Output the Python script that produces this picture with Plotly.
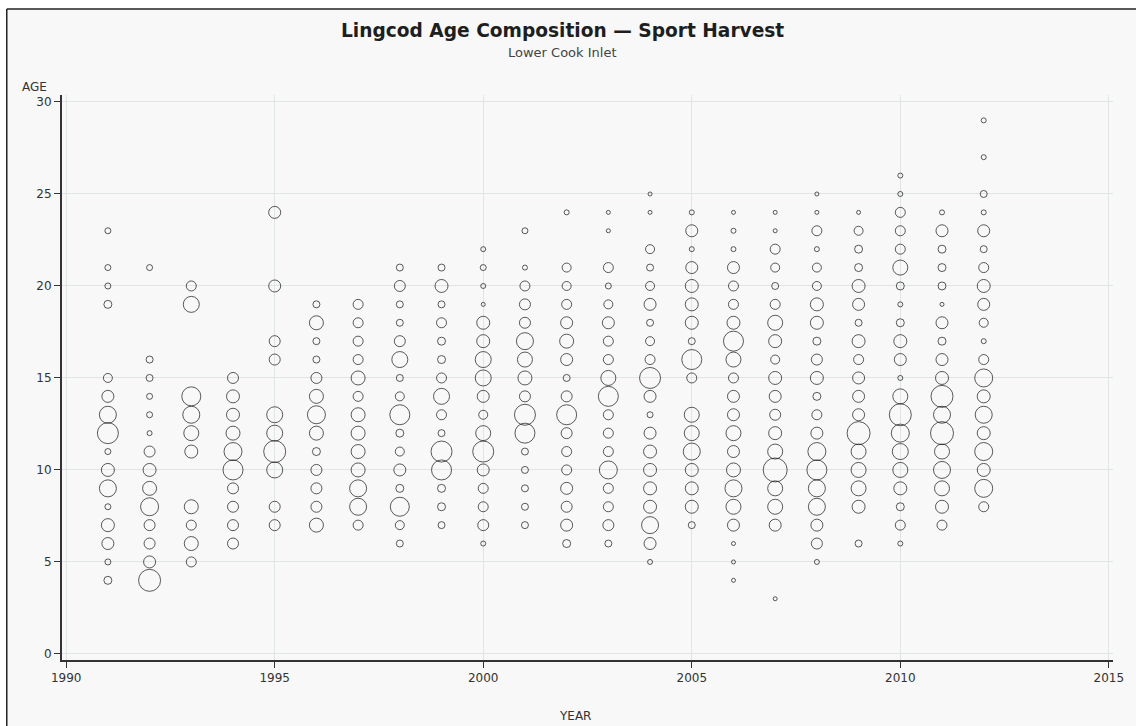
import plotly.graph_objects as go

# ---- Data: per-year ages and relative bubble sizes ----
years = list(range(1991, 2013))

ages = {
    1991: [23, 21, 20, 19, 15, 14, 13, 12, 11, 10, 9, 8, 7, 6, 5, 4],
    1992: [21, 16, 15, 14, 13, 12, 11, 10, 9, 8, 7, 6, 5, 4],
    1993: [20, 19, 14, 13, 12, 11, 8, 7, 6, 5],
    1994: [15, 14, 13, 12, 11, 10, 9, 8, 7, 6],
    1995: [24, 20, 17, 16, 13, 12, 11, 10, 8, 7],
    1996: [19, 18, 17, 16, 15, 14, 13, 12, 11, 10, 9, 8, 7],
    1997: [19, 18, 17, 16, 15, 14, 13, 12, 11, 10, 9, 8, 7],
    1998: [21, 20, 19, 18, 17, 16, 15, 14, 13, 12, 11, 10, 9, 8, 7, 6],
    1999: [21, 20, 19, 18, 17, 16, 15, 14, 13, 12, 11, 10, 9, 8, 7],
    2000: [22, 21, 20, 19, 18, 17, 16, 15, 14, 13, 12, 11, 10, 9, 8, 7, 6],
    2001: [23, 21, 20, 19, 18, 17, 16, 15, 14, 13, 12, 11, 10, 9, 8, 7],
    2002: [24, 21, 20, 19, 18, 17, 16, 15, 14, 13, 12, 11, 10, 9, 8, 7, 6],
    2003: [24, 23, 21, 20, 19, 18, 17, 16, 15, 14, 13, 12, 11, 10, 9, 8, 7, 6],
    2004: [25, 24, 22, 21, 20, 19, 18, 17, 16, 15, 14, 13, 12, 11, 10, 9, 8, 7, 6, 5],
    2005: [24, 23, 22, 21, 20, 19, 18, 17, 16, 15, 13, 12, 11, 10, 9, 8, 7],
    2006: [24, 23, 22, 21, 20, 19, 18, 17, 16, 15, 14, 13, 12, 11, 10, 9, 8, 7, 6, 5, 4],
    2007: [24, 23, 22, 21, 20, 19, 18, 17, 16, 15, 14, 13, 12, 11, 10, 9, 8, 7, 3],
    2008: [25, 24, 23, 22, 21, 20, 19, 18, 17, 16, 15, 14, 13, 12, 11, 10, 9, 8, 7, 6, 5],
    2009: [24, 23, 22, 21, 20, 19, 18, 17, 16, 15, 14, 13, 12, 11, 10, 9, 8, 6],
    2010: [26, 25, 24, 23, 22, 21, 20, 19, 18, 17, 16, 15, 14, 13, 12, 11, 10, 9, 8, 7, 6],
    2011: [24, 23, 22, 21, 20, 19, 18, 17, 16, 15, 14, 13, 12, 11, 10, 9, 8, 7],
    2012: [29, 27, 25, 24, 23, 22, 21, 20, 19, 18, 17, 16, 15, 14, 13, 12, 11, 10, 9, 8],
}

sizes = {
    1991: [6, 6, 6, 8, 9, 12, 17, 21, 6, 13, 17, 6, 13, 12, 6, 8],
    1992: [6, 7, 7, 6, 6, 5, 11, 13, 14, 18, 11, 11, 12, 22],
    1993: [10, 16, 19, 17, 15, 13, 14, 10, 14, 10],
    1994: [11, 13, 13, 14, 18, 20, 11, 11, 11, 11],
    1995: [12, 12, 11, 11, 16, 16, 22, 16, 11, 11],
    1996: [7, 14, 7, 7, 11, 14, 18, 14, 8, 11, 11, 11, 14],
    1997: [10, 10, 10, 10, 14, 10, 14, 14, 14, 14, 17, 17, 10],
    1998: [7, 11, 7, 7, 11, 16, 7, 9, 20, 8, 9, 12, 8, 19, 9, 7],
    1999: [7, 13, 7, 10, 8, 8, 10, 16, 10, 7, 21, 20, 8, 8, 7],
    2000: [5, 6, 5, 4, 13, 13, 16, 16, 12, 9, 15, 21, 12, 10, 10, 11, 5],
    2001: [6, 5, 10, 11, 11, 17, 15, 14, 11, 21, 20, 7, 7, 7, 7, 7],
    2002: [5, 9, 9, 10, 12, 14, 12, 7, 11, 20, 11, 10, 10, 12, 11, 12, 8],
    2003: [4, 4, 10, 6, 9, 12, 10, 10, 15, 20, 10, 10, 10, 18, 10, 10, 11, 7],
    2004: [4, 4, 9, 7, 9, 12, 7, 9, 10, 21, 12, 6, 12, 13, 13, 13, 13, 17, 12, 5],
    2005: [5, 12, 5, 12, 13, 13, 13, 7, 20, 10, 15, 15, 17, 13, 13, 13, 7],
    2006: [4, 5, 5, 12, 10, 10, 13, 20, 15, 10, 12, 12, 15, 12, 14, 17, 15, 12, 4, 4, 4],
    2007: [4, 4, 10, 9, 7, 10, 15, 13, 9, 13, 12, 11, 13, 15, 24, 15, 15, 12, 4],
    2008: [4, 4, 10, 5, 9, 9, 13, 13, 8, 11, 13, 8, 10, 12, 18, 20, 17, 17, 12, 11, 5],
    2009: [4, 9, 8, 8, 13, 12, 7, 13, 10, 12, 12, 12, 23, 15, 15, 15, 13, 7],
    2010: [5, 5, 10, 10, 10, 15, 8, 5, 8, 13, 12, 5, 15, 22, 18, 16, 15, 13, 8, 10, 5],
    2011: [5, 12, 8, 8, 8, 4, 12, 8, 12, 13, 22, 17, 23, 15, 17, 15, 13, 10],
    2012: [5, 5, 7, 5, 12, 7, 10, 13, 12, 9, 5, 10, 18, 13, 17, 13, 18, 13, 18, 10],
}

x_ticks = [1990, 1995, 2000, 2005, 2010, 2015]
y_ticks = [0, 5, 10, 15, 20, 25, 30]

title_text = "Lingcod Age Composition \u2014 Sport Harvest"
subtitle_text = "Lower Cook Inlet"
x_title = "YEAR"
y_title = "AGE"

# ---- Build the long table ----
xs, ys, ss = [], [], []
for yr in years:
    for a, s in zip(ages[yr], sizes[yr]):
        xs.append(yr)
        ys.append(a)
        ss.append(s)

FONT = "DejaVu Sans, Verdana, sans-serif"
BG = "#f7f8f7"
INK = "#333333"

fig = go.Figure()
fig.add_trace(go.Scatter(
    x=xs, y=ys, mode="markers",
    marker=dict(
        size=ss, sizemode="diameter", sizeref=1,
        symbol="circle-open",
        color="#151515",
        line=dict(width=1, color="#151515"),
    ),
    hoverinfo="x+y",
    showlegend=False,
))

W, H = 1136, 726
# plot area in page pixels
PL, PT, PR, PB = 62, 95, 1118, 660
pw = PR - PL
ph = PB - PT

def px_x(page_x):
    return (page_x - PL) / pw

def px_y(page_y):
    return (PB - page_y) / ph

frame = dict(color="#222222", width=1.5)

fig.update_layout(
    width=W, height=H,
    margin=dict(l=PL, r=W - PR, t=PT, b=H - PB, pad=0),
    paper_bgcolor="#ffffff",
    plot_bgcolor=BG,
    font=dict(family=FONT, color=INK, size=12),
    xaxis=dict(
        range=[1989.9, 2015.1],
        tickvals=x_ticks,
        ticks="outside", ticklen=6, tickwidth=1, tickcolor=INK,
        showline=True, linecolor=INK, linewidth=2,
        showgrid=True, gridcolor="#dfe4e4", gridwidth=1,
        zeroline=False,
        tickfont=dict(family=FONT, size=12, color=INK),
    ),
    yaxis=dict(
        range=[-0.33, 30.38],
        tickvals=y_ticks,
        ticks="outside", ticklen=6, tickwidth=1, tickcolor=INK,
        showline=True, linecolor=INK, linewidth=2,
        showgrid=True, gridcolor="#dfe4e4", gridwidth=1,
        zeroline=False,
        tickfont=dict(family=FONT, size=12, color=INK),
    ),
    annotations=[
        dict(text="<b>" + title_text + "</b>", xref="paper", yref="paper",
             x=px_x(565), y=px_y(30), xanchor="center", yanchor="middle",
             showarrow=False, font=dict(family=FONT, size=18.6, color="#1e1e1e")),
        dict(text=subtitle_text, xref="paper", yref="paper",
             x=px_x(565), y=px_y(53), xanchor="center", yanchor="middle",
             showarrow=False, font=dict(family=FONT, size=13, color="#444444")),
        dict(text=y_title, xref="paper", yref="paper",
             x=px_x(34), y=px_y(87), xanchor="center", yanchor="middle",
             showarrow=False, font=dict(family=FONT, size=12, color=INK)),
        dict(text=x_title, xref="paper", yref="paper",
             x=px_x(577), y=px_y(716), xanchor="center", yanchor="middle",
             showarrow=False, font=dict(family=FONT, size=12, color=INK)),
    ],
    shapes=[
        dict(type="rect", xref="paper", yref="paper",
             x0=px_x(6.5), x1=px_x(1150), y0=px_y(740), y1=px_y(9),
             fillcolor=BG, line=dict(width=0), layer="below"),
        dict(type="line", xref="paper", yref="paper",
             x0=px_x(6.5), x1=px_x(1150), y0=px_y(9), y1=px_y(9), line=frame),
        dict(type="line", xref="paper", yref="paper",
             x0=px_x(6.5), x1=px_x(6.5), y0=px_y(9), y1=px_y(740), line=frame),
    ],
)

fig.write_html(
    "out.html",
    config={"displayModeBar": False},
    post_script="document.body.style.margin='0';document.body.style.overflow='hidden';",
)
